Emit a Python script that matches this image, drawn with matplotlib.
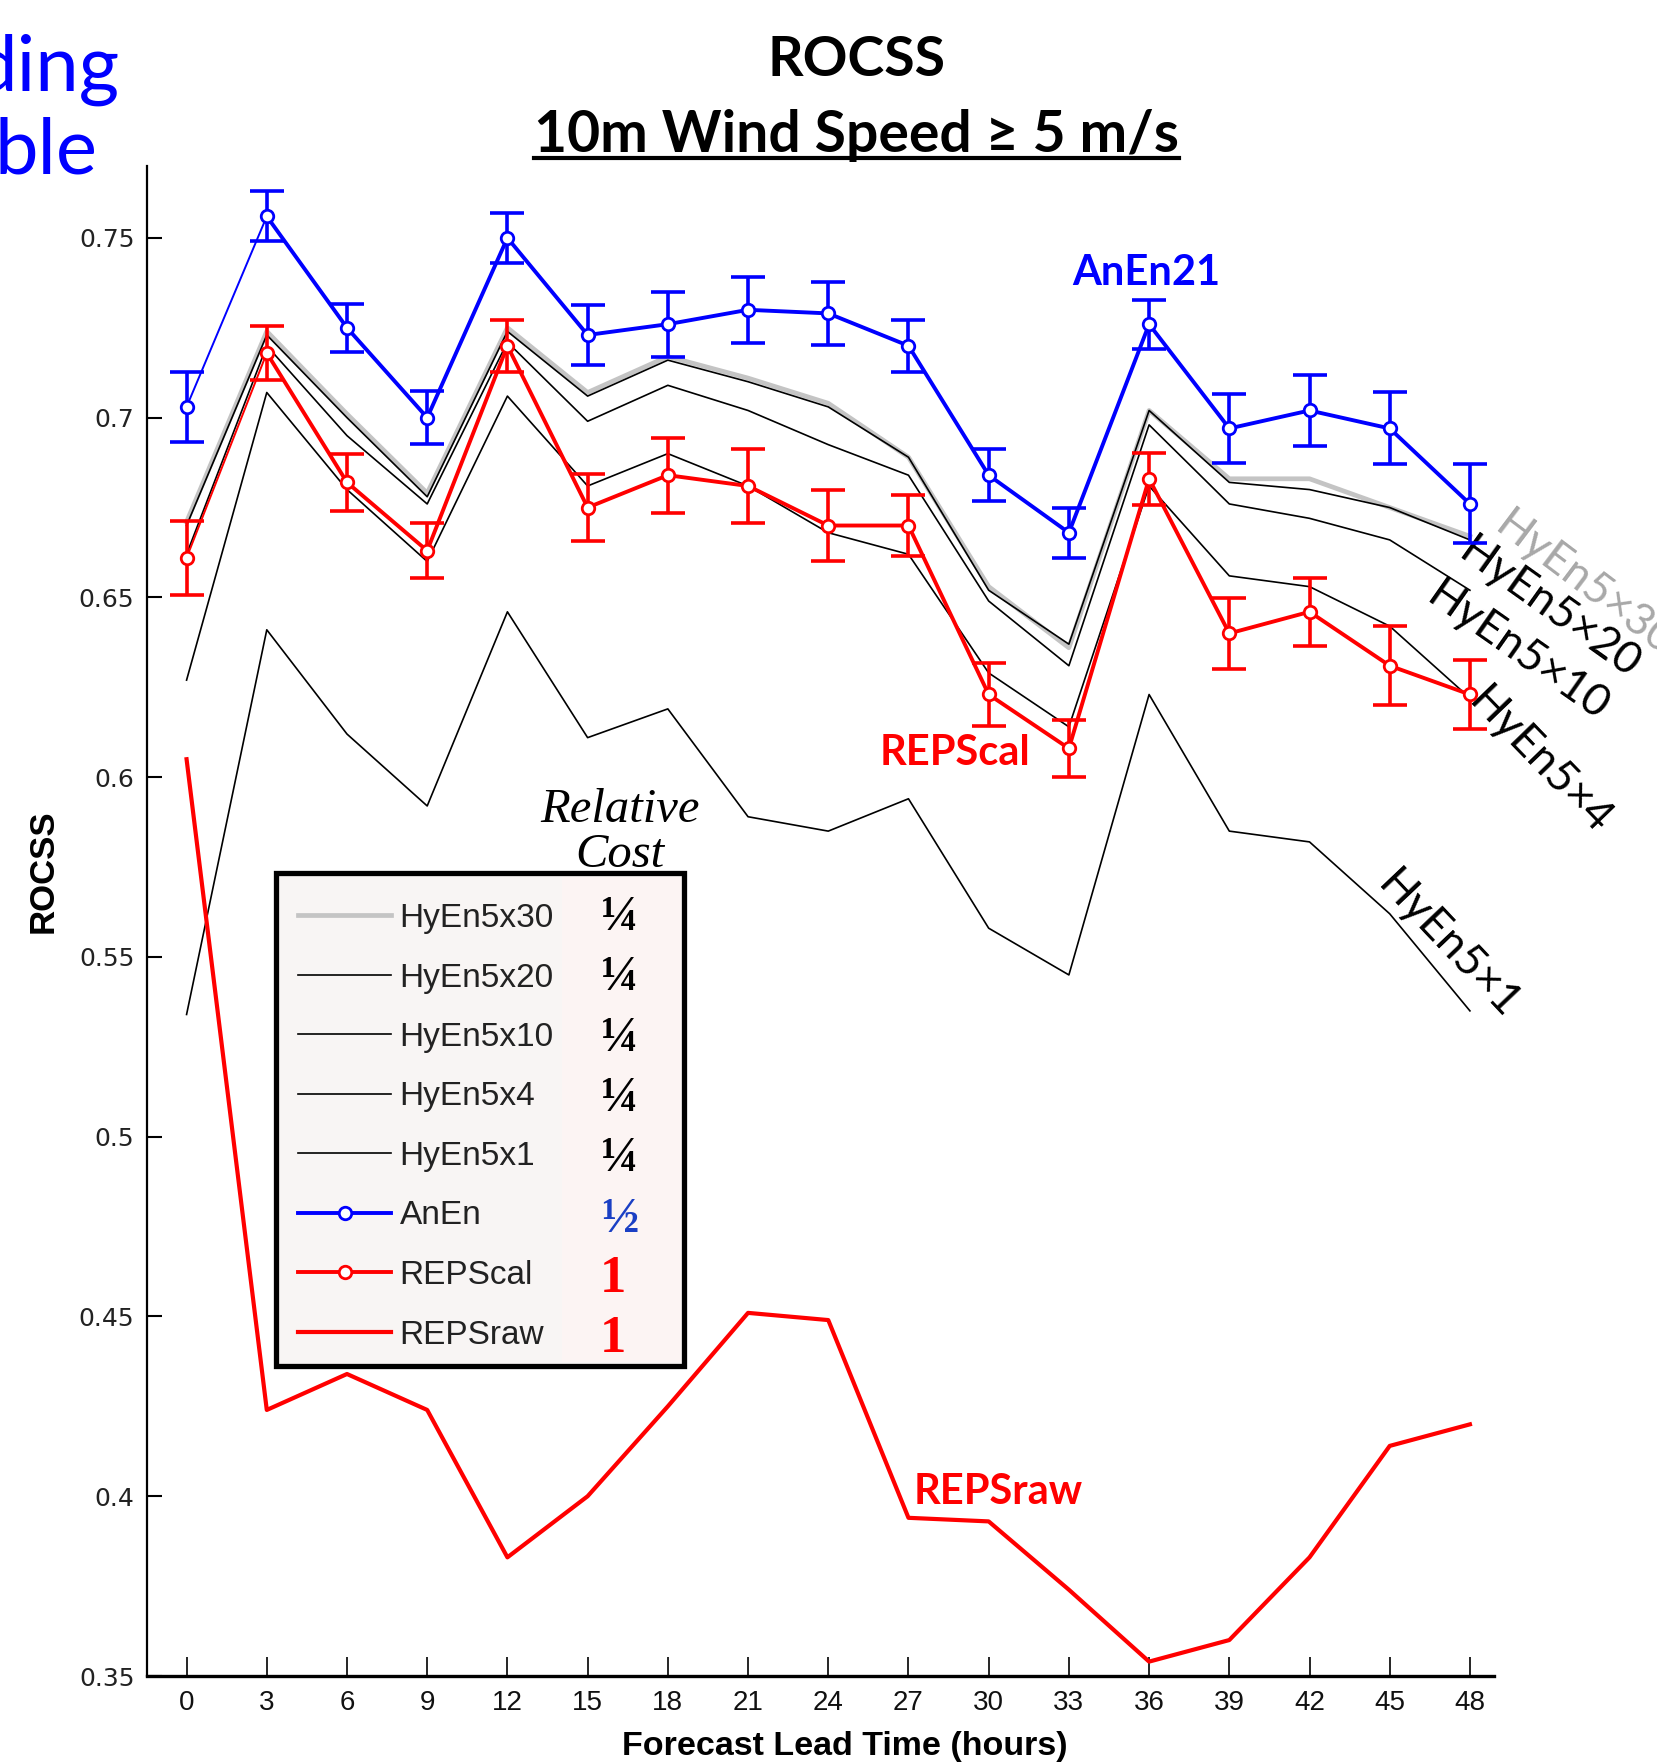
import matplotlib
matplotlib.use('Agg')
import matplotlib.pyplot as plt
from matplotlib.patches import Rectangle
from matplotlib.lines import Line2D

# lead times (hours)
hours = [0, 3, 6, 9, 12, 15, 18, 21, 24, 27, 30, 33, 36, 39, 42, 45, 48]

anen = [0.703, 0.756, 0.725, 0.700, 0.750, 0.723, 0.726, 0.730, 0.729, 0.720,
        0.684, 0.668, 0.726, 0.697, 0.702, 0.697, 0.676]
anen_err = [0.0097, 0.007, 0.0067, 0.0074, 0.007, 0.0083, 0.009, 0.0092, 0.0088,
            0.0073, 0.0073, 0.0069, 0.0068, 0.0095, 0.0100, 0.0100, 0.011]

repscal = [0.661, 0.718, 0.682, 0.663, 0.720, 0.675, 0.684, 0.681, 0.670, 0.670,
           0.623, 0.608, 0.683, 0.640, 0.646, 0.631, 0.623]
repscal_err = [0.0103, 0.0074, 0.0079, 0.0076, 0.0073, 0.0094, 0.0104, 0.0103, 0.010,
               0.0086, 0.0087, 0.008, 0.0072, 0.0098, 0.0095, 0.011, 0.0097]

repsraw = [0.605, 0.424, 0.434, 0.424, 0.383, 0.400, 0.425, 0.451, 0.449, 0.394,
           0.393, 0.374, 0.354, 0.360, 0.383, 0.414, 0.420]

hyen30 = [0.671, 0.724, 0.701, 0.679, 0.725, 0.707, 0.717, 0.711, 0.704, 0.689,
          0.653, 0.636, 0.702, 0.683, 0.683, 0.675, 0.667]
hyen20 = [0.670, 0.723, 0.700, 0.678, 0.724, 0.706, 0.716, 0.710, 0.703, 0.689,
          0.652, 0.637, 0.702, 0.682, 0.680, 0.675, 0.666]
hyen10 = [0.662, 0.720, 0.695, 0.676, 0.721, 0.699, 0.709, 0.702, 0.6925, 0.684,
          0.649, 0.631, 0.698, 0.676, 0.672, 0.666, 0.652]
hyen4 = [0.627, 0.707, 0.680, 0.660, 0.706, 0.681, 0.690, 0.681, 0.668, 0.662,
         0.629, 0.614, 0.681, 0.656, 0.653, 0.642, 0.622]
hyen1 = [0.534, 0.641, 0.612, 0.592, 0.646, 0.611, 0.619, 0.589, 0.585, 0.594,
         0.558, 0.545, 0.623, 0.585, 0.582, 0.562, 0.535]

yticks = [0.35, 0.4, 0.45, 0.5, 0.55, 0.6, 0.65, 0.7, 0.75]
ytick_labels = ['0.35', '0.4', '0.45', '0.5', '0.55', '0.6', '0.65', '0.7', '0.75']

legend_names = ['HyEn5x30', 'HyEn5x20', 'HyEn5x10', 'HyEn5x4', 'HyEn5x1',
                'AnEn', 'REPScal', 'REPSraw']
costs = ['\u00bc', '\u00bc', '\u00bc', '\u00bc', '\u00bc', '\u00bd', '1', '1']
cost_colors = ['black'] * 5 + ['#1a3fc4', '#ff0000', '#ff0000']

W, H = 1657, 1762
fig = plt.figure(figsize=(W / 100, H / 100), dpi=100)


def fx(px):
    return px / W


def fy(py):
    return 1 - py / H


ax = fig.add_axes([fx(147), fy(1676), fx(1494) - fx(147), fy(166) - fy(1676)])

BLUE = '#0000ff'
RED = '#ff0000'

h30, = ax.plot(hours, hyen30, color='#c4c4c4', lw=3.4, zorder=2)
h20, = ax.plot(hours, hyen20, color='black', lw=1.2, zorder=3)
h10, = ax.plot(hours, hyen10, color='black', lw=1.2, zorder=3)
h4, = ax.plot(hours, hyen4, color='black', lw=1.2, zorder=3)
h1, = ax.plot(hours, hyen1, color='black', lw=1.2, zorder=3)

raw, = ax.plot(hours, repsraw, color=RED, lw=3.0, zorder=4)

mk = dict(marker='o', ms=9, mfc='white', mew=2)

# AnEn
ax.errorbar(hours, anen, yerr=anen_err, fmt='none', ecolor=BLUE, elinewidth=2.6,
            capsize=12, capthick=2.6, zorder=5)
ax.plot(hours[:2], anen[:2], color=BLUE, lw=1.4, zorder=5)
an, = ax.plot(hours[1:], anen[1:], color=BLUE, lw=2.8, mec=BLUE, zorder=6, **mk)
ax.plot(hours[:1], anen[:1], ls='none', mec=BLUE, zorder=6, **mk)

# REPScal
ax.errorbar(hours, repscal, yerr=repscal_err, fmt='none', ecolor=RED, elinewidth=2.6,
            capsize=12, capthick=2.6, zorder=5)
ax.plot(hours[:2], repscal[:2], color=RED, lw=1.4, zorder=5)
rc, = ax.plot(hours[1:], repscal[1:], color=RED, lw=2.8, mec=RED, zorder=6, **mk)
ax.plot(hours[:1], repscal[:1], ls='none', mec=RED, zorder=6, **mk)

ax.set_xlim(-1.48, 48.9)
ax.set_ylim(0.35, 0.770)
ax.tick_params(axis='x', direction='in', length=14, width=1.2, pad=10)
ax.tick_params(axis='y', direction='in', length=11, width=1.5, pad=9)
ax.set_xticks(hours)
ax.set_xticklabels([str(h) for h in hours], fontfamily='Liberation Sans',
                   fontsize=20, color='#111111')
ax.set_yticks(yticks)
ax.set_yticklabels(ytick_labels, fontfamily='DejaVu Sans', fontsize=18, color='#222222')
ax.spines['top'].set_visible(False)
ax.spines['right'].set_visible(False)
ax.spines['left'].set_linewidth(1.6)
ax.spines['bottom'].set_linewidth(2.4)

# axis labels
fig.text(fx(845), fy(1731), 'Forecast Lead Time (hours)', ha='center', va='top',
         fontsize=24.5, fontweight='bold', fontfamily='Liberation Sans')
fig.text(fx(43), fy(871), 'ROCSS', ha='center', va='center', rotation=90,
         fontsize=25, fontweight='bold', fontfamily='Liberation Sans')

# title
tfam = ['Lato', 'DejaVu Sans']
fig.text(fx(856), fy(76), 'ROCSS', ha='center', va='baseline', fontsize=40,
         fontweight='bold', family=tfam)
t2 = fig.text(fx(856), fy(152), '10m Wind Speed \u2265 5 m/s', ha='center',
              va='baseline', fontsize=41, fontweight='bold', family=tfam)

# slide fragments at upper left
fig.text(fx(120), fy(91), 'ding', ha='right', va='baseline', fontsize=56,
         color=BLUE, family=tfam)
fig.text(fx(98), fy(174), 'ble', ha='right', va='baseline', fontsize=56,
         color=BLUE, family=tfam)

# curve labels
ax.text(35.9, 0.7403, 'AnEn21', color=BLUE, fontsize=30, fontweight='bold',
        family=tfam, ha='center', va='center')
ax.text(28.75, 0.6068, 'REPScal', color=RED, fontsize=30, fontweight='bold',
        family=tfam, ha='center', va='center')
ax.text(30.35, 0.4012, 'REPSraw', color=RED, fontsize=30, fontweight='bold',
        family=tfam, ha='center', va='center')

side = [(52.3, 0.6538, -37, '#a8a8a8', 'HyEn5\u00d730'),
        (51.0, 0.6470, -35.5, 'black', 'HyEn5\u00d720'),
        (49.8, 0.6350, -35, 'black', 'HyEn5\u00d710'),
        (50.6, 0.6045, -46, 'black', 'HyEn5\u00d74'),
        (47.2, 0.5534, -46.5, 'black', 'HyEn5\u00d71')]
for x, y, rot, c, s in side:
    ax.text(x, y, s, rotation=rot, rotation_mode='anchor', ha='center', va='center',
            fontsize=32, color=c, family=tfam, clip_on=False)

# legend box with cost column
ax.add_patch(Rectangle((fx(276), fy(1366)), fx(684) - fx(276), fy(873) - fy(1366),
                       transform=fig.transFigure, facecolor='#f8f5f4', edgecolor='black',
                       lw=3.8, zorder=7, clip_on=False))
ax.add_patch(Rectangle((fx(562), fy(1362)), fx(681) - fx(562), fy(877) - fy(1362),
                       transform=fig.transFigure, facecolor='#fcf4f3', edgecolor='none',
                       zorder=7, clip_on=False))

handles = [h30, h20, h10, h4, h1, an, rc, raw]
leg = ax.legend(handles, legend_names, loc='upper left',
                bbox_to_anchor=(fx(298), fy(903)), bbox_transform=fig.transFigure,
                frameon=False, borderpad=0, borderaxespad=0, numpoints=1,
                handlelength=2.8, handletextpad=0.25, labelspacing=0.855,
                prop={'family': 'Liberation Sans', 'size': 24})
leg.set_zorder(8)
for txt in leg.get_texts():
    txt.set_color('#222222')

fig.text(fx(620), fy(822), 'Relative', ha='center', va='baseline', fontsize=35,
         style='italic', fontfamily='Liberation Serif')
fig.text(fx(620), fy(867), 'Cost', ha='center', va='baseline', fontsize=35,
         style='italic', fontfamily='Liberation Serif')
for i, (c, col) in enumerate(zip(costs, cost_colors)):
    base = 930 + i * 60.3
    size = 38 if c == '1' else 36
    fig.text(fx(620 if c != '1' else 613), fy(base), c, ha='center', va='baseline',
             fontsize=size, fontweight='bold', color=col,
             fontfamily='Liberation Serif', zorder=9)

# underline of second title line
fig.canvas.draw()
bb = t2.get_window_extent()
fig.add_artist(Line2D([bb.x0, bb.x1], [fy(158) * H, fy(158) * H], transform=None,
                      color='black', lw=3))

fig.savefig('out.png', dpi=100)
